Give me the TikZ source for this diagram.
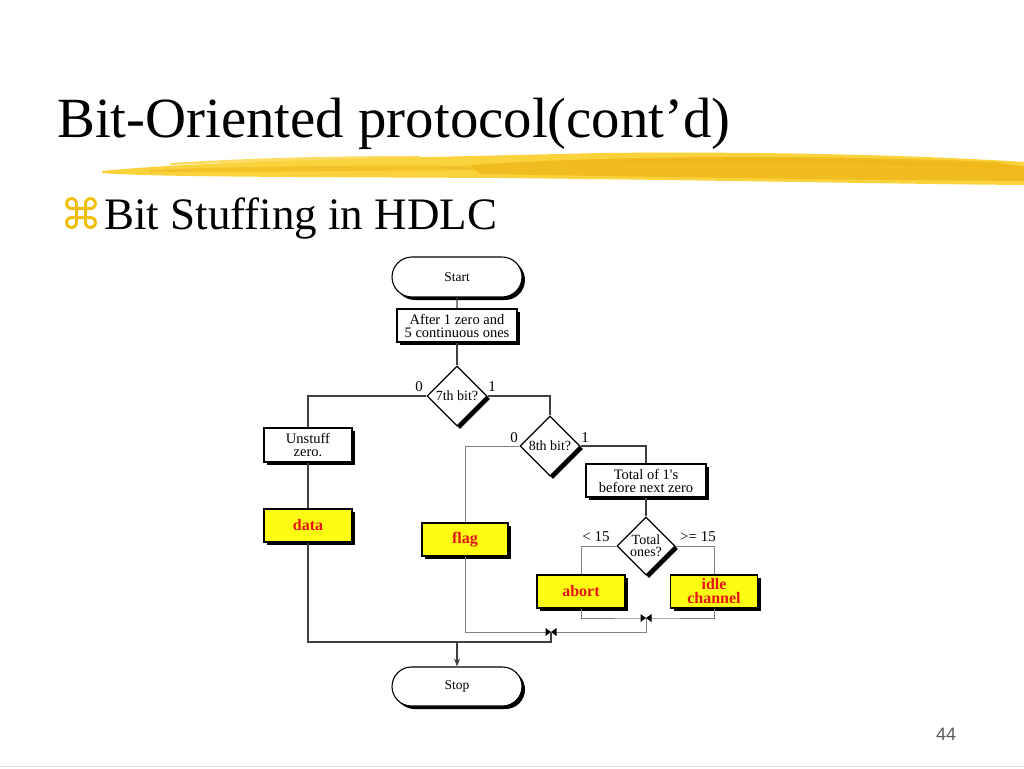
\documentclass[tikz,border=0pt]{standalone}
\usepackage{fontspec}
\setmainfont{Liberation Serif}
\newfontfamily\symfont{DejaVu Sans}
\newfontfamily\pgfont{Liberation Sans}
\usetikzlibrary{shapes.geometric,shapes.misc,shadows,arrows.meta}
\definecolor{gold}{RGB}{240,190,0}
\definecolor{brushA}{RGB}{250,210,60}
\definecolor{brushB}{RGB}{238,180,20}
\definecolor{boxyellow}{RGB}{255,252,20}
\definecolor{boxred}{RGB}{230,20,20}
\definecolor{pggray}{RGB}{90,90,90}
\tikzset{
  shad/.style={drop shadow={shadow xshift=3pt,shadow yshift=-3pt,opacity=1,fill=black}},
  term/.style={rounded rectangle,draw=black,line width=1.1pt,fill=white,shad,minimum width=130pt,minimum height=40pt,inner sep=0pt,font=\fontsize{13.5}{14}\selectfont},
  procbox/.style={rectangle,draw=black,line width=1.1pt,fill=white,shad,minimum height=33pt,inner sep=0pt,align=center,font=\fontsize{14.5}{13}\selectfont},
  ybox/.style={rectangle,draw=black,line width=1.1pt,fill=boxyellow,shad,minimum width=88pt,minimum height=33pt,inner sep=0pt,align=center,text=boxred,font=\fontsize{16}{14}\selectfont\bfseries},
  decis/.style={diamond,draw=black,line width=1.1pt,fill=white,shad,minimum width=60pt,minimum height=60pt,inner sep=0pt,align=center,font=\fontsize{14}{12}\selectfont},
  lnd/.style={draw=black!75,line width=1.1pt},
  lnl/.style={draw=black!50,line width=1pt},
  lbl/.style={inner sep=0pt,font=\fontsize{15}{15}\selectfont},
}
\begin{document}
\begin{tikzpicture}[x=1pt,y=-1pt]
\useasboundingbox (0,0) rectangle (1024,768);
% title
\node[anchor=base west,inner sep=0pt,font=\fontsize{56.8}{60}\selectfont] (title) at (57,137) {Bit-Oriented protocol(cont’d)};
% brush stroke
\fill[brushA] (102,171) .. controls (200,161) and (400,158) .. (600,153) .. controls (800,151) and (950,157) .. (1024,162) -- (1024,185) .. controls (900,184) and (700,180) .. (500,178) .. controls (300,177) and (150,177) .. (102,173) -- cycle;
\fill[brushB,opacity=0.7] (470,165) .. controls (600,156) and (800,154) .. (1000,162) -- (1024,168) -- (1024,181) .. controls (850,180) and (650,177) .. (480,174) -- cycle;
\fill[brushB,opacity=0.5] (150,170) .. controls (250,166) and (350,165) .. (480,166) -- (480,170) .. controls (350,171) and (250,172) .. (150,172) -- cycle;
\fill[brushA,opacity=0.8] (170,163) .. controls (250,158) and (330,156) .. (420,156) -- (420,159) .. controls (330,160) and (250,162) .. (170,165) -- cycle;
\fill[brushB,opacity=0.6] (620,160) .. controls (750,157) and (850,158) .. (1024,166) -- (1024,169) .. controls (850,163) and (750,162) .. (620,163) -- cycle;
% subtitle
\node[anchor=base west,inner sep=0pt,text=gold,font=\symfont\fontsize{42}{44}\selectfont] (bul) at (60,229) {⌘};
\node[anchor=base west,inner sep=0pt,font=\fontsize{45}{48}\selectfont] (sub) at (104,229) {Bit Stuffing in HDLC};
% flowchart nodes
\node[term] (start) at (457,277) {Start};
\node[procbox,minimum width=120pt] (after) at (457,325.5) {After 1 zero and\\5 continuous ones};
\node[decis] (d7) at (457,396) {7th bit?};
\node[procbox,minimum width=88pt,minimum height=34pt] (unstuff) at (308,445) {Unstuff\\zero.};
\node[ybox] (data) at (308,525.5) {data};
\node[decis] (d8) at (550,446) {8th bit?};
\node[ybox,minimum width=86pt] (flag) at (465,539.5) {flag};
\node[procbox,minimum width=120pt] (total) at (646,480.5) {Total of 1\textquotesingle s\\before next zero};
\node[decis,minimum width=58pt,minimum height=58pt] (dt) at (646,546) {Total\\ones?};
\node[ybox] (abort) at (581,591.5) {abort};
\node[ybox,minimum width=87pt] (idle) at (714,591.5) {idle\\channel};
\node[term,minimum height=39pt] (stop) at (457,686.5) {Stop};
% labels
\node[lbl,anchor=base] (l70) at (419,391) {0};
\node[lbl,anchor=base] (l71) at (492,391) {1};
\node[lbl,anchor=base] (l80) at (514,442) {0};
\node[lbl,anchor=base] (l81) at (585,442) {1};
\node[lbl,anchor=base] (llt) at (596,541) {< 15};
\node[lbl,anchor=base] (lge) at (698,541) {>= 15};
% junction coordinates
\coordinate (j1) at (646,618);
\coordinate (j1b) at (646,632);
\coordinate (j2) at (551,632);
\coordinate (m1) at (551,642);
\coordinate (arr) at (457,642);
% connectors
\draw[lnd] (start) -- (after);
\draw[lnd] (after) -- (d7);
\draw[lnd] (d7.west) -| (unstuff.north);
\draw[lnd] (unstuff) -- (data);
\draw[lnd] (data.south) |- (m1) -- (j2);
\draw[lnd] (d7.east) -| (d8.north);
\draw[lnl] (d8.west) -| (flag.north);
\draw[lnl] (flag.south) |- (j1b) -- (j1);
\draw[lnd] (d8.east) -| (total.north);
\draw[lnd] (total) -- (dt);
\draw[lnl] (dt.west) -| (abort.north);
\draw[lnl] (dt.east) -| (idle.north);
\draw[lnl] (abort.south) |- (j1) -| (idle.south);
\draw[lnd,-{Stealth[length=8pt,width=6pt]}] (arr) -- (stop.north);
% junction marks
\foreach \c in {j1,j2}{
  \fill[black] (\c) -- ++(-5.5,-4) -- ++(0,8) -- cycle;
  \fill[black] (\c) -- ++(5.5,-4) -- ++(0,8) -- cycle;
}
% page number and bottom rule
\node[anchor=base,inner sep=0pt,text=pggray,font=\pgfont\fontsize{18}{18}\selectfont] (pg) at (946,740) {44};
\draw[black!12,line width=1pt] (0,766) -- (1024,766);
\end{tikzpicture}
\end{document}
